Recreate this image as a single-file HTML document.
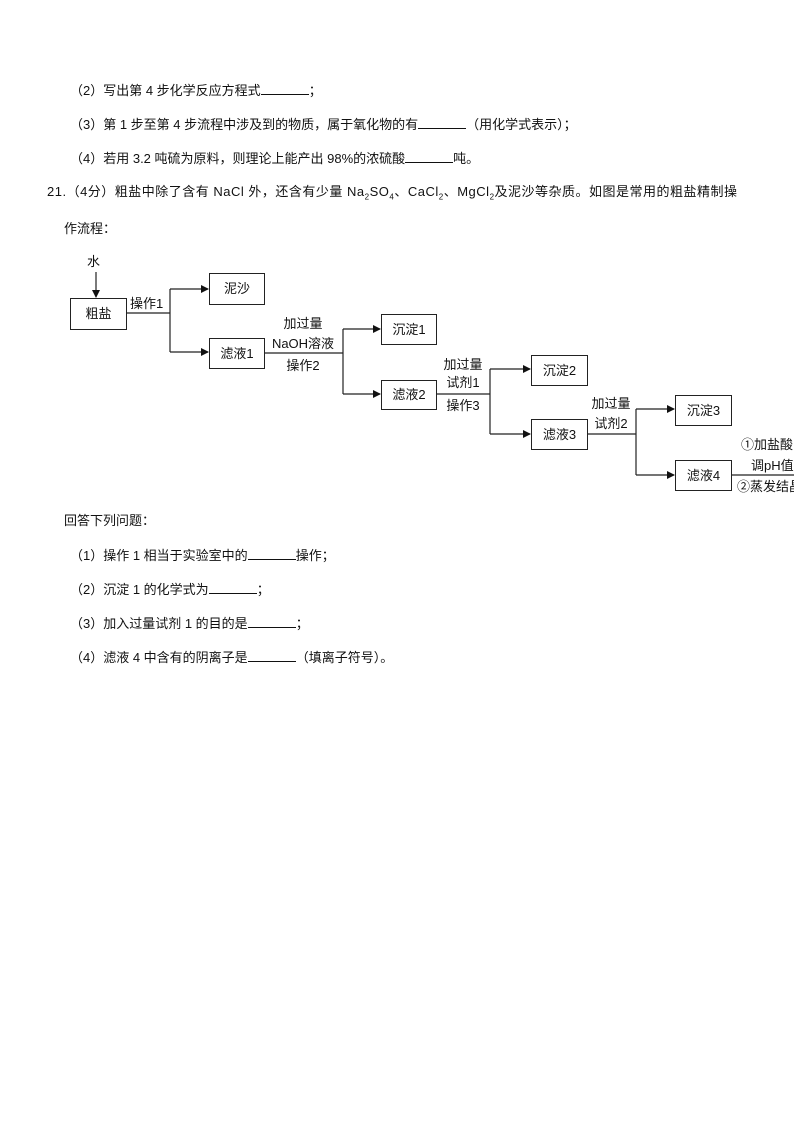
<!DOCTYPE html>
<html><head><meta charset="utf-8"><style>
body{margin:0;background:#fff;}
.p{position:relative;width:794px;height:1123px;overflow:hidden;font-family:"Liberation Sans","Noto Sans CJK SC",sans-serif;color:#111;}
.t{position:absolute;font-size:13px;white-space:nowrap;line-height:16px;}
.u{display:inline-block;border-bottom:1px solid #111;height:12px;vertical-align:baseline;}
.b{position:absolute;border:1px solid #222;background:#fff;font-size:13px;text-align:center;box-sizing:border-box;}
.l{position:absolute;font-size:13px;white-space:nowrap;text-align:center;line-height:16px;}
</style></head><body><div class="p">
<div class="t" style="left:70px;top:82px">（2）写出第 4 步化学反应方程式<span class="u" style="width:48px"></span>；</div>
<div class="t" style="left:70px;top:116px">（3）第 1 步至第 4 步流程中涉及到的物质，属于氧化物的有<span class="u" style="width:48px"></span>（用化学式表示）；</div>
<div class="t" style="left:70px;top:150px">（4）若用 3.2 吨硫为原料，则理论上能产出 98%的浓硫酸<span class="u" style="width:48px"></span>吨。</div>
<div class="t" style="left:47px;top:184px;letter-spacing:0.5px">21.（4分）粗盐中除了含有 NaCl 外，还含有少量 Na<sub style="font-size:8px">2</sub>SO<sub style="font-size:8px">4</sub>、CaCl<sub style="font-size:8px">2</sub>、MgCl<sub style="font-size:8px">2</sub>及泥沙等杂质。如图是常用的粗盐精制操</div>
<div class="t" style="left:64px;top:221px">作流程：</div>

<svg width="794" height="510" style="position:absolute;left:0;top:0" >
<defs><marker id="a" markerWidth="8" markerHeight="8" refX="7" refY="4" orient="auto" markerUnits="userSpaceOnUse"><path d="M0,0 L8,4 L0,8z" fill="#111"/></marker></defs>
<g stroke="#222" stroke-width="1.2" fill="none">
<line x1="96" y1="272" x2="96" y2="297" marker-end="url(#a)"/>
<polyline points="126,313 170,313"/><polyline points="170,289 170,352"/>
<line x1="170" y1="289" x2="208" y2="289" marker-end="url(#a)"/>
<line x1="170" y1="352" x2="208" y2="352" marker-end="url(#a)"/>
<polyline points="264,353 343,353"/><polyline points="343,329 343,394"/>
<line x1="343" y1="329" x2="380" y2="329" marker-end="url(#a)"/>
<line x1="343" y1="394" x2="380" y2="394" marker-end="url(#a)"/>
<polyline points="436,394 490,394"/><polyline points="490,369 490,434"/>
<line x1="490" y1="369" x2="530" y2="369" marker-end="url(#a)"/>
<line x1="490" y1="434" x2="530" y2="434" marker-end="url(#a)"/>
<polyline points="587,434 636,434"/><polyline points="636,409 636,475"/>
<line x1="636" y1="409" x2="674" y2="409" marker-end="url(#a)"/>
<line x1="636" y1="475" x2="674" y2="475" marker-end="url(#a)"/>
<polyline points="731,475 794,475"/>
</g></svg>
<div class="l" style="left:87px;top:254px">水</div>
<div class="b" style="left:70px;top:298px;width:57px;height:32px;line-height:30px">粗盐</div>
<div class="b" style="left:209px;top:273px;width:56px;height:32px;line-height:30px">泥沙</div>
<div class="b" style="left:209px;top:338px;width:56px;height:31px;line-height:29px">滤液1</div>
<div class="b" style="left:381px;top:314px;width:56px;height:31px;line-height:29px">沉淀1</div>
<div class="b" style="left:381px;top:380px;width:56px;height:30px;line-height:28px">滤液2</div>
<div class="b" style="left:531px;top:355px;width:57px;height:31px;line-height:29px">沉淀2</div>
<div class="b" style="left:531px;top:419px;width:57px;height:31px;line-height:29px">滤液3</div>
<div class="b" style="left:675px;top:395px;width:57px;height:31px;line-height:29px">沉淀3</div>
<div class="b" style="left:675px;top:460px;width:57px;height:31px;line-height:29px">滤液4</div>
<div class="l" style="left:130px;top:296px">操作1</div>
<div class="l" style="left:278px;top:316px;width:50px">加过量</div>
<div class="l" style="left:268px;top:336px;width:70px">NaOH溶液</div>
<div class="l" style="left:278px;top:358px;width:50px">操作2</div>
<div class="l" style="left:438px;top:357px;width:50px">加过量</div>
<div class="l" style="left:438px;top:375px;width:50px">试剂1</div>
<div class="l" style="left:438px;top:398px;width:50px">操作3</div>
<div class="l" style="left:586px;top:396px;width:50px">加过量</div>
<div class="l" style="left:586px;top:416px;width:50px">试剂2</div>
<div class="l" style="left:741px;top:437px">①加盐酸</div>
<div class="l" style="left:751px;top:458px">调pH值</div>
<div class="l" style="left:737px;top:479px">②蒸发结晶</div>

<div class="t" style="left:64px;top:513px">回答下列问题：</div>
<div class="t" style="left:70px;top:547px">（1）操作 1 相当于实验室中的<span class="u" style="width:48px"></span>操作；</div>
<div class="t" style="left:70px;top:581px">（2）沉淀 1 的化学式为<span class="u" style="width:48px"></span>；</div>
<div class="t" style="left:70px;top:615px">（3）加入过量试剂 1 的目的是<span class="u" style="width:48px"></span>；</div>
<div class="t" style="left:70px;top:649px">（4）滤液 4 中含有的阴离子是<span class="u" style="width:48px"></span>（填离子符号）。</div>
</div></body></html>
